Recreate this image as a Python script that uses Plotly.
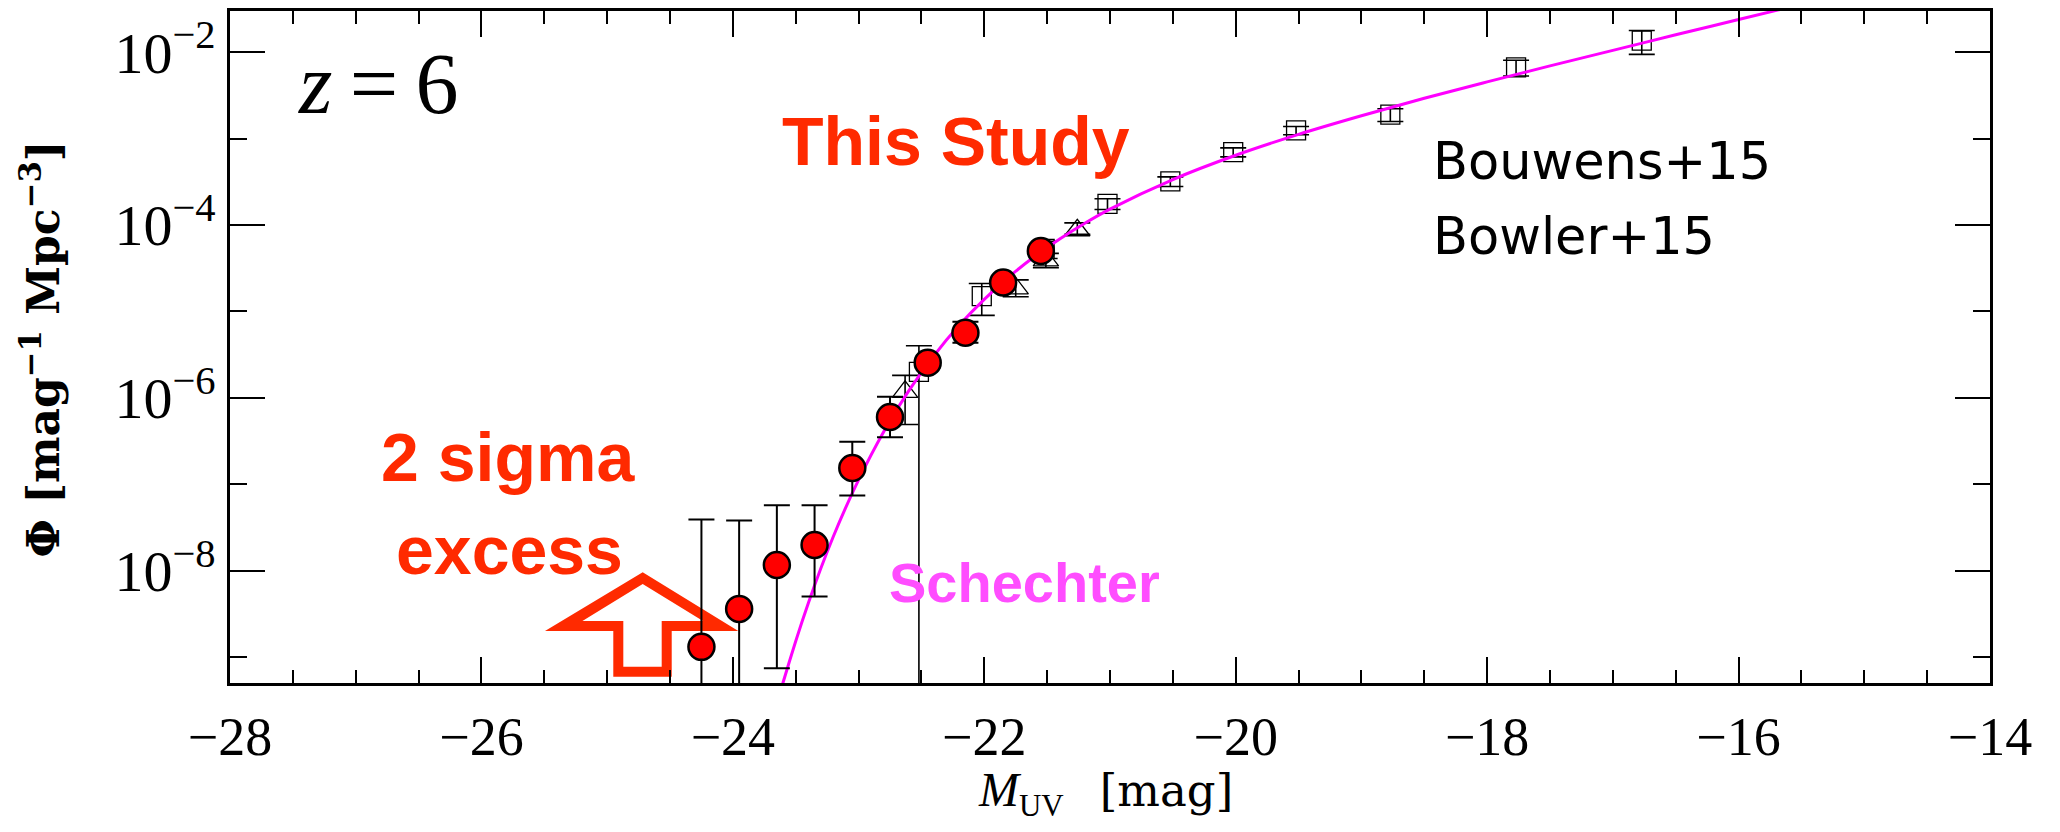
import plotly.graph_objects as go

# ---------------- data ----------------
# This study (red circles): M_UV, Phi, and asymmetric 1-sigma errors
M_this = [-24.25, -23.95, -23.65, -23.35, -23.05, -22.75, -22.45, -22.15, -21.85, -21.55]
phi_this = [1.31e-9, 3.6e-9, 1.16e-8, 1.98e-8, 1.54e-7, 6.0e-7, 2.55e-6, 5.66e-6, 2.16e-5, 5.0e-5]
err_up_this = [3.77e-8, 3.44e-8, 4.54e-8, 3.72e-8, 1.56e-7, 4.3e-7, 3.0e-7, 1.94e-6, 2.5e-6, 6.0e-6]
err_lo_this = [1.31e-9, 3.6e-9, 1.086e-8, 1.48e-8, 8.0e-8, 2.5e-7, 3.0e-7, 1.31e-6, 2.5e-6, 6.0e-6]

# Bouwens+15 (open squares)
M_bou = [-22.52, -22.02, -21.52, -21.02, -20.52, -20.02, -19.52, -18.77, -17.77, -16.77]
phi_bou = [2.0e-6, 1.5e-5, 5.3e-5, 1.76e-4, 3.2e-4, 6.98e-4, 1.246e-3, 1.9e-3, 6.68e-3, 1.364e-2]
err_bou = [2.0e-6, 6.0e-6, 1.2e-5, 2.5e-5, 4.1e-5, 8.3e-5, 1.37e-4, 3.2e-4, 1.38e-3, 4.2e-3]

# Bowler+15 (open triangles)
M_bow = [-22.63, -21.75, -21.51, -21.26]
phi_bow = [1.17e-6, 1.85e-5, 3.9e-5, 8.7e-5]
err_up_bow = [0.65e-6, 0.47e-5, 0.8e-5, 1.9e-5]
err_lo_bow = [0.68e-6, 0.37e-5, 0.7e-5, 0.9e-5]

# Schechter curve sampled along M_UV
M_sch = [-23.7, -23.6, -23.4, -23.2, -23.0, -22.8, -22.6, -22.4, -22.2, -22.0, -21.8,
         -21.6, -21.4, -21.2, -21.0, -20.5, -20.0, -19.5, -19.0, -18.5, -18.0, -17.5,
         -17.0, -16.5, -16.0, -15.5]
phi_sch = [1.5e-10, 5.1e-10, 4.2e-9, 2.5e-8, 1.12e-7, 4.05e-7, 1.21e-6, 3.08e-6, 6.9e-6,
           1.38e-5, 2.54e-5, 4.32e-5, 6.9e-5, 1.05e-4, 1.53e-4, 3.36e-4, 6.42e-4, 1.12e-3,
           1.84e-3, 2.93e-3, 4.54e-3, 6.95e-3, 1.05e-2, 1.59e-2, 2.39e-2, 3.58e-2]

# axis ticks
x_ticks = [-28, -26, -24, -22, -20, -18, -16, -14]
x_labels = ["\u221228", "\u221226", "\u221224", "\u221222", "\u221220", "\u221218", "\u221216", "\u221214"]
y_ticks = [1e-8, 1e-6, 1e-4, 1e-2]
y_labels = ["10<sup>\u22128</sup>", "10<sup>\u22126</sup>", "10<sup>\u22124</sup>", "10<sup>\u22122</sup>"]
y_minor = [1e-9, 1e-7, 1e-5, 1e-3]

# ---------------- layout geometry ----------------
W, H = 2060, 832
L, R, T, B = 230, 1990, 8, 683


def px(x):
    return (x - L) / (R - L)


def py(y):
    return (B - y) / (B - T)


RED_TXT = "#ff2a00"
SANS = "DejaVu Sans"
BOLD_SANS = "Liberation Sans"
SERIF = "Liberation Serif"
WIDE_SERIF = "DejaVu Serif"

fig = go.Figure()

fig.add_trace(go.Scatter(
    x=M_bou, y=phi_bou, mode="markers",
    marker=dict(symbol="square-open", size=19, color="black", line=dict(width=1.3, color="black")),
    error_y=dict(type="data", array=err_bou, arrayminus=err_bou, color="black", thickness=1.6, width=13),
    hoverinfo="skip",
))

fig.add_trace(go.Scatter(
    x=M_bow, y=phi_bow, mode="markers",
    marker=dict(symbol="triangle-up-open", size=22, color="black", line=dict(width=1.3, color="black")),
    error_y=dict(type="data", array=err_up_bow, arrayminus=err_lo_bow, color="black", thickness=1.6, width=13),
    hoverinfo="skip",
))

fig.add_trace(go.Scatter(
    x=M_sch, y=phi_sch, mode="lines",
    line=dict(color="#ff00ff", width=3, shape="spline"),
    hoverinfo="skip",
))

fig.add_trace(go.Scatter(
    x=M_this, y=phi_this, mode="markers",
    marker=dict(symbol="circle", size=26, color="#ff0000", line=dict(width=2.5, color="black")),
    error_y=dict(type="data", array=err_up_this, arrayminus=err_lo_this, color="black", thickness=2, width=13),
    hoverinfo="skip",
))

# open up-arrow outline (outer and inner contour, even-odd fill)
outer = [(642.7, 571.7), (738.3, 630.7), (671.7, 630.7), (671.7, 676.7),
         (613.3, 676.7), (613.3, 630.7), (545.0, 630.7)]
inner = [(642.7, 583.5), (703.0, 620.7), (661.7, 620.7), (661.7, 666.7),
         (623.3, 666.7), (623.3, 620.7), (582.4, 620.7)]


def poly(pts):
    return "M " + " L ".join(f"{px(a):.5f},{py(b):.5f}" for a, b in pts) + " Z"


fig.add_shape(type="path", path=poly(outer) + " " + poly(inner), xref="paper", yref="paper",
              fillcolor=RED_TXT, line=dict(width=0), layer="below", fillrule="evenodd")


def text_at(txt, x, baseline, size, color, family, anchor="left", k=0.346, **kw):
    fig.add_annotation(text=txt, xref="paper", yref="paper", x=px(x), y=py(baseline - k * size),
                       xanchor=anchor, yanchor="middle", showarrow=False,
                       font=dict(family=family, size=size, color=color), **kw)


text_at("<i>z</i>\u2009=\u20096", 296, 110, 86, "black", SERIF, k=0.3375)
text_at("<b>This Study</b>", 956, 162, 68, RED_TXT, BOLD_SANS, anchor="center")
text_at("<b>2 sigma</b>", 508, 480, 68, RED_TXT, BOLD_SANS, anchor="center")
text_at("<b>excess</b>", 509, 573, 68, RED_TXT, BOLD_SANS, anchor="center")
text_at("Bouwens+15", 1431, 177, 51, "black", SANS)
text_at("Bowler+15", 1431, 252, 51, "black", SANS)
text_at("<b>Schechter</b>", 887, 601, 56, "#ff4dff", BOLD_SANS)

# axis titles
text_at("<i>M</i><sub><span style='font-size:31px'>UV</span></sub>\u2002 "
        "<span style='font-family:DejaVu Serif;font-size:45px'>[mag]</span>",
        1105, 810, 48, "black", SERIF, anchor="center", k=0.3375)
fig.add_annotation(text="<b>\u03a6 [mag<sup>\u22121</sup> Mpc<sup>\u22123</sup>]</b>", xref="paper", yref="paper",
                   x=px(40), y=py(348), xanchor="center", yanchor="middle", textangle=-90,
                   showarrow=False, font=dict(family=WIDE_SERIF, size=44, color="black"))

axis_common = dict(showline=True, linecolor="black", linewidth=2.5, mirror="allticks",
                   ticks="inside", tickcolor="black", tickwidth=2, showgrid=False, zeroline=False)

fig.update_xaxes(range=[-28, -14], tickmode="array", tickvals=x_ticks, ticktext=x_labels,
                 ticklen=26, ticklabelstandoff=4, tickfont=dict(family=SERIF, size=54, color="black"),
                 minor=dict(tickvals=[v / 2 for v in range(-55, -28) if v % 4 != 0],
                            ticklen=13, tickwidth=2, tickcolor="black", ticks="inside"),
                 **axis_common)
fig.update_yaxes(type="log", range=[-9.30103, -1.52288], tickmode="array", tickvals=y_ticks,
                 ticktext=y_labels, ticklen=35, tickfont=dict(family=SERIF, size=58, color="black"),
                 minor=dict(tickvals=y_minor, ticklen=17, tickwidth=2, tickcolor="black", ticks="inside"),
                 **axis_common)

fig.update_layout(width=W, height=H, margin=dict(l=L, r=W - R, t=T, b=H - B, pad=0),
                  plot_bgcolor="white", paper_bgcolor="white", showlegend=False)

fig.write_html("out.html")
